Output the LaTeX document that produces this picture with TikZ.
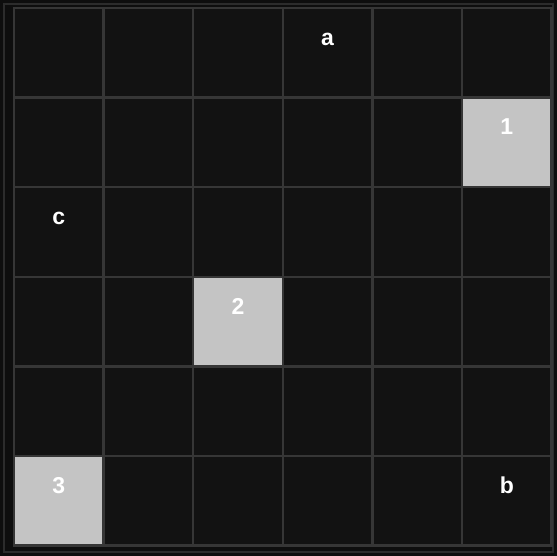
\documentclass[tikz,border=0pt]{standalone}
\usepackage{fontspec}
\setmainfont{Liberation Sans}
\usepackage{xcolor}
\usepackage{tikz}
\usetikzlibrary{positioning,calc}
\definecolor{BgDark}{RGB}{14,14,14}
\definecolor{FrameLine}{RGB}{44,44,44}
\definecolor{CellDark}{RGB}{18,18,18}
\definecolor{GridLine}{RGB}{54,54,54}
\definecolor{CellLit}{RGB}{196,196,196}
\tikzset{
  cellbox/.style={draw=GridLine,fill=CellDark,line width=2.4pt,minimum size=89.6pt,inner sep=0pt,outer sep=0pt},
  litbox/.style={cellbox,fill=CellLit},
  tag/.style={text=white,font=\fontsize{23}{23}\selectfont\bfseries,inner sep=0pt,anchor=base}
}

\begin{document}
\begin{tikzpicture}[x=1pt,y=-1pt]
  \useasboundingbox[fill=BgDark] (0,0) rectangle (557,556);
  \draw[FrameLine,line width=2pt] (4,4) rectangle (553,552);
  \def\g{89.6}\def\ox{14}\def\oy{8}
  % 6 x 6 board, row r from top, column c from left
  \foreach \r in {0,...,5}{
    \foreach \c in {0,...,5}{
      \node[cellbox] (cell-\r-\c) at ({\ox+(\c+0.5)*\g},{\oy+(\r+0.5)*\g}) {};
    }
  }
  % numbered grey squares
  \foreach \r/\c/\t in {1/5/1,3/2/2,5/0/3}{
    \node[litbox] (lit-\t) at (cell-\r-\c) {};
    \node[tag] (tag-\t) at ([yshift=7.4pt]lit-\t.center) {\t};
  }
  % letters on dark squares
  \foreach \r/\c/\t in {0/3/a,5/5/b,2/0/c}{
    \node[tag] (tag-\t) at ([yshift=7.4pt]cell-\r-\c.center) {\t};
  }
\end{tikzpicture}
\end{document}
